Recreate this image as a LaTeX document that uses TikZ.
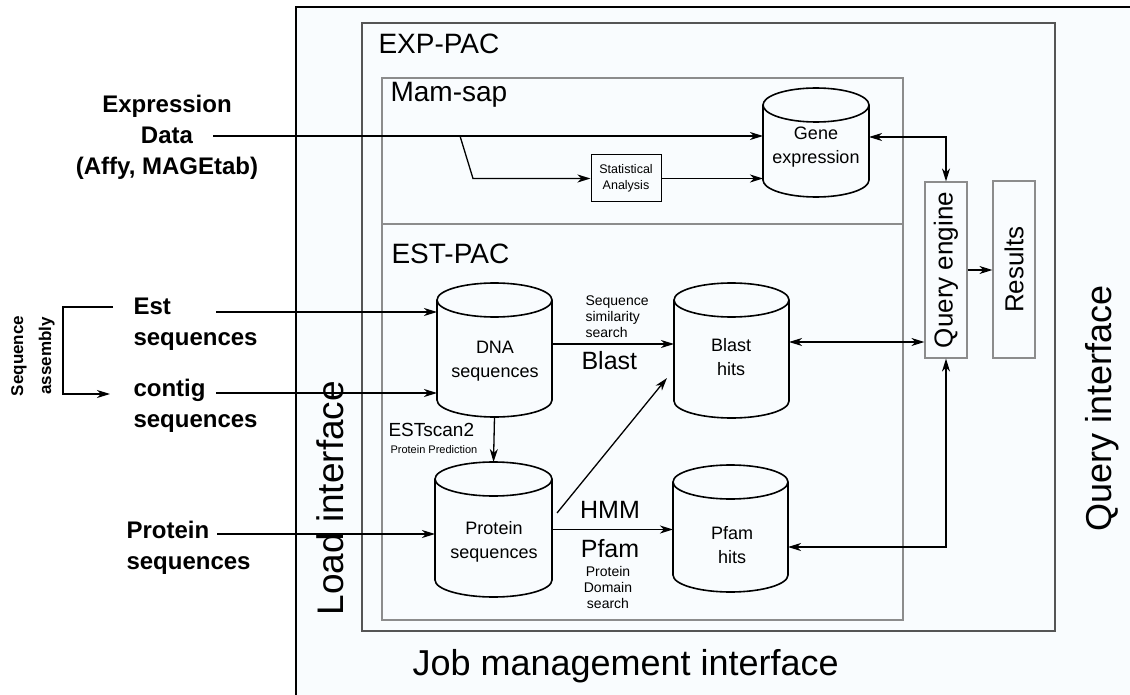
\documentclass[tikz,border=0pt]{standalone}
\usepackage{fontspec}
\setmainfont{Liberation Sans}
\usetikzlibrary{arrows.meta}

\definecolor{paneblue}{RGB}{249,252,254}
\definecolor{boxgray}{RGB}{85,85,85}
\definecolor{innergray}{RGB}{140,140,140}

\tikzset{
  dbbox/.style={inner sep=0pt, outer sep=0pt},
  dbline/.style={line width=1.6pt},
  dbtext/.style={anchor=base, align=center, font=\fontsize{18}{24}\selectfont},
  srclbl/.style={align=left, font=\bfseries\fontsize{24}{31}\selectfont},
  biglbl/.style={anchor=base west, font=\fontsize{36}{40}\selectfont},
  paclbl/.style={anchor=base west, font=\fontsize{28}{32}\selectfont},
  arrlbl/.style={align=left, font=\fontsize{14}{16}\selectfont},
  qbox/.style={draw=innergray, line width=1.2pt, minimum width=42pt, minimum height=176pt, inner sep=0pt, font=\fontsize{26}{30}\selectfont},
  link/.style={line width=1.3pt},
}

% name, centre x, centre y, half width, half height
\newcommand{\dbcyl}[5]{%
  \node[dbbox, minimum width=2*#4pt, minimum height=2*#5pt] (#1) at (#2,#3) {};
  \draw[dbline] ([yshift=-17pt]#1.north) ellipse [x radius=#4pt, y radius=17pt];
  \draw[dbline] ([yshift=-17pt]#1.north west) -- ([yshift=17pt]#1.south west)
    arc [start angle=180, end angle=360, x radius=#4pt, y radius=17pt] -- ([yshift=-17pt]#1.north east);
}

\begin{document}
\begin{tikzpicture}[x=1pt,y=-1pt,>={Stealth[length=13pt,width=8pt,inset=4pt]}]
\useasboundingbox (0,0) rectangle (1130,695);

\fill[paneblue] (296,7) rectangle (1130,695);
\draw[line width=2pt] (296,695) -- (296,7) -- (1130,7);
\draw[boxgray, line width=1.5pt] (362,23) rectangle (1055,631);
\draw[innergray, line width=1.2pt] (382,78) rectangle (903,620);
\draw[innergray, line width=1.2pt] (382,224) -- (903,224);

\node[paclbl] (exppac) at (375,54) {EXP-PAC};
\node[paclbl] (mamsap) at (387,102) {Mam-sap};
\node[paclbl] (estpac) at (388,263) {EST-PAC};

% databases
\dbcyl{gene}{816}{142.5}{53}{54.5}
\dbcyl{dna}{494.5}{350}{57.5}{67}
\dbcyl{blast}{731.5}{350.5}{57.5}{67.5}
\dbcyl{prot}{493.5}{529.5}{58.5}{67.5}
\dbcyl{pfam}{730.5}{528.5}{57.5}{63.5}
\node[dbtext] (genetxt) at (816,164) {Gene\\expression};
\node[dbtext] (dnatxt) at (495,377) {DNA\\sequences};
\node[dbtext] (blasttxt) at (731,375) {Blast\\hits};
\node[dbtext] (prottxt) at (494,558) {Protein\\sequences};
\node[dbtext] (pfamtxt) at (732,563) {Pfam\\hits};

\node[draw, line width=1pt, minimum width=70pt, minimum height=47pt, inner sep=0pt, align=center, font=\fontsize{12.5}{16}\selectfont] (stat) at (626,178.5) {Statistical\\Analysis};
\node[qbox] (query) at (946,270) {\rotatebox{90}{Query engine}};
\node[qbox, minimum height=177pt] (results) at (1014,269.5) {\rotatebox{90}{Results}};

% sources on the left
\node[srclbl, align=center, anchor=base] (exprdata) at (167,175) {Expression\\Data\\(Affy, MAGEtab)};
\node[srclbl, anchor=base west] (est) at (130,345) {Est\\sequences};
\node[srclbl, anchor=base west] (contig) at (130,427) {contig\\sequences};
\node[srclbl, anchor=base west] (protsrc) at (123,569) {Protein\\sequences};
\node[rotate=90, align=center, font=\bfseries\fontsize{17}{28}\selectfont] (asm) at (33,356) {Sequence\\assembly};

\coordinate (datain) at (213,136);
\coordinate (fork) at (460,136);
\coordinate (estin) at (216,312);
\coordinate (contigin) at (216,393);
\coordinate (protin) at (217,534);
\coordinate (asmtop) at (113,307);
\coordinate (asmend) at (110,394);

% labels on the arrows
\node[arrlbl, anchor=base west] (simlbl) at (582,337) {Sequence\\similarity\\search};
\node[anchor=base west, font=\fontsize{25}{28}\selectfont] (blastlbl) at (578,369) {Blast};
\node[anchor=base west, font=\fontsize{19}{22}\selectfont] (estscan) at (385,436) {ESTscan2};
\node[anchor=base west, font=\fontsize{11}{13}\selectfont] (protpred) at (387,453) {Protein Prediction};
\node[anchor=base, font=\fontsize{25}{28}\selectfont] (hmmlbl) at (610,518) {HMM};
\node[anchor=base, font=\fontsize{25}{28}\selectfont] (pfamlbl) at (610,557) {Pfam};
\node[arrlbl, align=center, anchor=base] (domain) at (608,608) {Protein\\Domain\\search};

% interfaces
\node[biglbl, rotate=90, font=\fontsize{37}{40}\selectfont] (load) at (343,619) {Load interface};
\node[biglbl, rotate=90] (qiface) at (1111,535) {Query interface};
\node[biglbl] (job) at (409,675) {Job management interface};

% connectors
\draw[link, ->] (datain) -- (datain -| gene.west);
\draw[link, ->] (fork) -- ([xshift=13pt]fork |- stat.west) -- (stat.west);
\draw[link, ->] (stat.east) -- (stat.east -| gene.west);
\draw[link, <->] ([yshift=5.5pt]gene.east) -| (query.north);
\draw[link, ->] (query.east) -- (query.east -| results.west);
\draw[link, <->] ([yshift=8.5pt]blast.east) -- ([yshift=8.5pt]blast.east -| query.west);
\draw[link, <->] ([yshift=-18.5pt]pfam.east) -| (query.south);

\foreach \src/\dst in {estin/dna, contigin/dna, protin/prot}
  \draw[link, ->] (\src) -- (\src -| \dst.west);
\draw[link, ->] (asmtop) -- ++(-50,0) |- (asmend);

\draw[link, ->] ([yshift=6pt]dna.east) -- ([yshift=6pt]dna.east -| blast.west);
\draw[link, ->] (dna.south) -- (prot.north);
\draw[link, ->] ([xshift=63.5pt,yshift=16.5pt]prot.center) -- ([xshift=-64.5pt,yshift=-27.5pt]blast.center);
\draw[link, ->] (prot.east) -- (prot.east -| pfam.west);
\end{tikzpicture}
\end{document}
